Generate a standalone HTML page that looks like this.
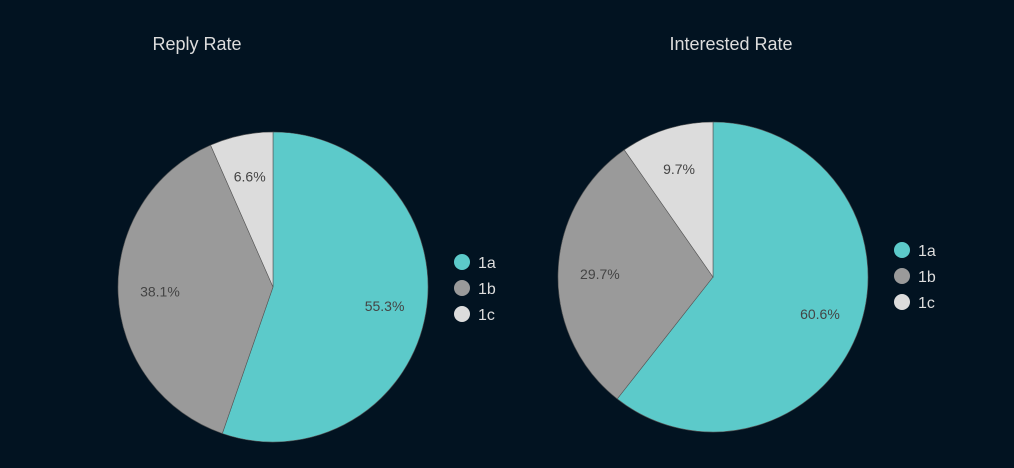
<!DOCTYPE html>
<html><head><meta charset="utf-8"><style>
body{margin:0;background:#021321;}
svg{display:block;font-family:"Liberation Sans",sans-serif;}
</style></head><body>
<svg id="c" width="1014" height="468">
<rect width="1014" height="468" fill="#021321"/>
</svg>
<script>
const categories = ["1a","1b","1c"];
const replyValues = [55.3, 38.1, 6.6];
const interestedValues = [60.6, 29.7, 9.7];
const colors = ["#5ccaca","#9a9a9a","#dcdcdc"];
const NS="http://www.w3.org/2000/svg";
const svg=document.getElementById('c');
function mk(t,a,p){const e=document.createElementNS(NS,t);for(const k in a)e.setAttribute(k,a[k]);(p||svg).appendChild(e);return e;}
function pie(name,title,vals,cx,cy,r,tx,lx,ly){
  const g=mk('g',{});
  
  
  const t=mk('text',{x:tx,y:50,'text-anchor':'middle',fill:'#dddddd','font-size':18},g);
  t.textContent=title;
  
  
  const tot=vals.reduce((a,b)=>a+b,0);
  let a0=0;
  vals.forEach((v,i)=>{
    const a1=a0+v/tot*2*Math.PI;
    const p=(a)=>[cx+r*Math.sin(a),cy-r*Math.cos(a)];
    const [x0,y0]=p(a0),[x1,y1]=p(a1);
    const large=(a1-a0)>Math.PI?1:0;
    const s=mk('path',{d:`M${cx},${cy}L${x0},${y0}A${r},${r} 0 ${large} 1 ${x1},${y1}Z`,fill:colors[i],stroke:'#555','stroke-width':0.6},g);
    
    
    const am=(a0+a1)/2, lr=r*0.73;
    const l=mk('text',{x:cx+lr*Math.sin(am),y:cy-lr*Math.cos(am)+5,'text-anchor':'middle',fill:'#444','font-size':14},g);
    l.textContent=v.toFixed(1)+'%';
    
    
    a0=a1;
  });
  categories.forEach((c,i)=>{
    const d=mk('circle',{cx:lx,cy:ly+i*26,r:8,fill:colors[i]},g);
    
    
    const lt=mk('text',{x:lx+16,y:ly+i*26+6,fill:'#dddddd','font-size':16},g);
    lt.textContent=c;
    
    
  });
}
pie('reply-rate-pie','Reply Rate',replyValues,273,287,155,197,462,262);
pie('interested-rate-pie','Interested Rate',interestedValues,713,277,155,731,902,250);
</script>
</body></html>
